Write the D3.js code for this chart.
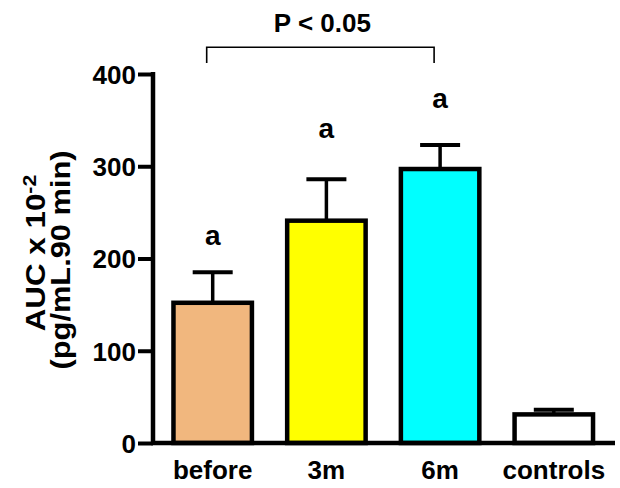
<!DOCTYPE html>
<html>
<head>
<meta charset="utf-8">
<style>
  body { margin: 0; background: #fff; }
  svg text { font-family: "Liberation Sans", Arial, sans-serif; font-weight: bold; fill: #000; }
</style>
<title>AUC bar chart</title>
</head>
<body>
<script src="https://cdn.jsdelivr.net/npm/d3@7"></script>
<script>

// data
var groups   = ["before", "3m", "6m", "controls"];
var means    = [152, 241, 297, 31];
var upperErr = [185, 286, 323, 36];
var colors   = ["#F1B77E", "#FFFF00", "#00FFFF", "#FFFFFF"];
var letters  = ["a", "a", "a", ""];
var letterAt = [215, 331, 363, 0];
var yTicks   = [0, 100, 200, 300, 400];
// significance bracket between before and 6m
var bracket  = {from: "before", to: "6m", top: 429, bottom: 412, label: "P < 0.05", labelAt: 445};

var W = 620, H = 488;

var svg = d3.select("body").append("svg")
    .attr("width", W)
    .attr("height", H);

var y = d3.scaleLinear().domain([0, 400]).range([443, 74]);

var x = d3.scaleBand()
    .domain(groups)
    .range([153, 613.5])
    .paddingInner(0.31)
    .paddingOuter(0.18);

var bw = x.bandwidth();
var cx = g => x(g) + bw / 2;

var rows = groups.map((g, i) => ({g: g, m: means[i], e: upperErr[i], c: colors[i], l: letters[i], la: letterAt[i]}));

// error bars (drawn first so the bar outline covers the stem)
var err = svg.append("g");
err.selectAll("line.stem")
    .data(rows).enter().append("line")
    .attr("x1", d => cx(d.g)).attr("x2", d => cx(d.g))
    .attr("y1", d => y(d.m)).attr("y2", d => y(d.e))
    .attr("stroke", "#000").attr("stroke-width", 3.5);
err.selectAll("line.cap")
    .data(rows).enter().append("line")
    .attr("x1", d => cx(d.g) - 20).attr("x2", d => cx(d.g) + 20)
    .attr("y1", d => y(d.e)).attr("y2", d => y(d.e))
    .attr("stroke", "#000").attr("stroke-width", 4);

// bars
svg.append("g").selectAll("rect")
    .data(rows).enter().append("rect")
    .attr("x", d => x(d.g))
    .attr("y", d => y(d.m))
    .attr("width", bw)
    .attr("height", d => y(0) - y(d.m))
    .attr("fill", d => d.c)
    .attr("stroke", "#000")
    .attr("stroke-width", 4.5);

// letters above bars
svg.append("g").selectAll("text")
    .data(rows.filter(d => d.l)).enter().append("text")
    .attr("x", d => cx(d.g))
    .attr("y", d => y(d.la))
    .attr("text-anchor", "middle")
    .style("font-size", "28px")
    .text(d => d.l);

// y axis
var yAxis = svg.append("g")
    .attr("transform", "translate(153,0)")
    .call(d3.axisLeft(y).tickValues(yTicks).tickSize(15).tickPadding(2));
yAxis.select(".domain").remove();
yAxis.selectAll(".tick line").attr("stroke", "#000").attr("stroke-width", 4);
yAxis.selectAll(".tick text")
    .attr("dy", "0.36em")
    .style("font-size", "26px")
    .style("font-family", "'Liberation Sans', Arial, sans-serif")
    .style("font-weight", "bold");
svg.append("line")
    .attr("x1", 153).attr("x2", 153)
    .attr("y1", y(400) - 2).attr("y2", y(0))
    .attr("stroke", "#000").attr("stroke-width", 4.5);

// x axis
var xAxis = svg.append("g")
    .attr("transform", "translate(0," + y(0) + ")")
    .call(d3.axisBottom(x).tickSize(0).tickPadding(18));
xAxis.select(".domain").remove();
xAxis.selectAll(".tick text")
    .attr("dy", "0.71em")
    .style("font-size", "26px")
    .style("font-family", "'Liberation Sans', Arial, sans-serif")
    .style("font-weight", "bold");
svg.append("line")
    .attr("x1", 151).attr("x2", 615)
    .attr("y1", y(0)).attr("y2", y(0))
    .attr("stroke", "#000").attr("stroke-width", 4.5);

// significance bracket
var bx1 = cx(bracket.from) - 6, bx2 = cx(bracket.to) - 6;
svg.append("path")
    .attr("d", `M${bx1},${y(bracket.bottom)}V${y(bracket.top)}H${bx2}V${y(bracket.bottom)}`)
    .attr("fill", "none")
    .attr("stroke", "#000")
    .attr("stroke-width", 1.6);
svg.append("text")
    .attr("x", (bx1 + bx2) / 2 + 2)
    .attr("y", y(bracket.labelAt))
    .attr("text-anchor", "middle")
    .style("font-size", "26px")
    .text(bracket.label);

// y axis title, two lines (stretched a little along the text, like the original)
var t1 = svg.append("text")
    .attr("transform", "translate(45,253) rotate(-90) scale(1.12,1)")
    .attr("text-anchor", "middle")
    .style("font-size", "28px");
t1.append("tspan").text("AUC x 10");
t1.append("tspan").attr("dy", "-0.45em").style("font-size", "19px").text("-2");

svg.append("text")
    .attr("transform", "translate(70,260) rotate(-90) scale(1.1,1)")
    .attr("text-anchor", "middle")
    .style("font-size", "28px")
    .text("(pg/mL.90 min)");

</script>
</body>
</html>
